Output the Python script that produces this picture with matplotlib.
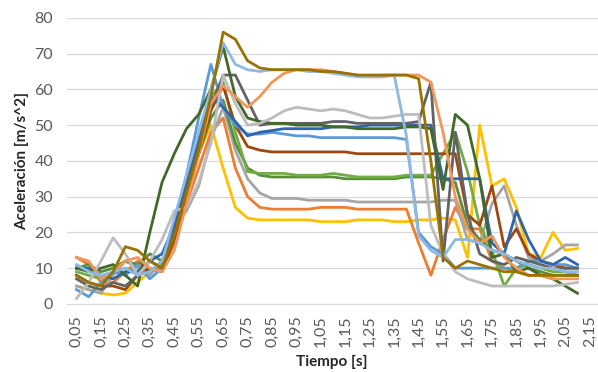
import matplotlib.pyplot as plt
import numpy as np

plt.rcParams['font.family'] = ['Lato', 'DejaVu Sans']

# tiempo [s], muestras cada 0,05 s
tiempo = np.round(np.arange(0.05, 2.101, 0.05), 2)
etiquetas_x = np.round(np.arange(0.05, 2.151, 0.10), 2)

# aceleraciones [m/s^2]
olivo = [8, 6, 5, 9, 16, 15, 12, 10, 19, 31, 43, 58, 76, 74, 68, 66, 65.5, 65.5, 65.5,
         65.5, 65, 65, 64.5, 64, 64, 64, 64, 64, 63, 40, 13, 10, 12, 11, 10, 9, 9, 8, 8, 8, 8, 8]
celeste = [11, 9, 8, 9, 10, 8, 9, 12, 24, 36, 48, 60, 73, 67, 65.5, 65, 65.5, 65.5, 65.5,
           65, 65, 64.5, 64, 63.5, 63.5, 64, 64, 47, 19, 15, 13, 18, 18, 17, 15, 14, 12, 11, 10, 10, 9, 9]
salmon = [13, 12, 7, 9, 12, 13, 10, 9, 15, 28, 42, 56, 61, 58, 55, 58, 62, 64.5, 65.5,
          65.5, 65.5, 65, 64.5, 64, 63.5, 63.5, 64, 64, 64, 62, 48, 30, 21, 17, 19, 13, 10, 8, 8, 7, 7, 7]
gris_claro = [1.5, 6, 12, 18.5, 14, 8, 12, 18, 26, 27, 34, 45, 64, 56, 50, 50.5, 52, 54, 55,
              54.5, 54, 54.5, 54, 53, 52, 52, 52.5, 53, 53, 22, 14, 9, 7, 6, 5, 5, 5, 5, 5, 5, 5.5, 6]
verde_osc = [10, 9, 10, 11, 8, 5, 20, 34, 42, 49, 53, 60, 72, 58, 52, 51, 50.5, 50.5, 50,
             50, 50, 49.5, 49.5, 49, 49, 49, 49, 49.5, 49.5, 49, 32, 53, 50, 35, 13, 14, 9, 10, 8, 7, 5, 3]
carbon = [7, 5, 4, 6, 5, 8, 12, 10, 20, 32, 44, 55, 64, 64, 57, 50, 50.5, 50.5, 50.5,
          50.5, 50.5, 51, 51, 50.5, 50.5, 50.5, 50.5, 50.5, 51, 62, 12, 48, 25, 14, 12, 11, 13, 12, 11, 10, 10, 10]
azul = [10, 10, 8, 7, 9, 9, 12, 14, 22, 34, 46, 58, 55, 51, 47, 48, 48.5, 49, 49,
        49, 49, 49.5, 49.5, 49.5, 50, 50, 50, 50, 50, 50, 35, 35, 35, 35, 17, 14, 26, 18, 12, 11, 13, 11]
azul_claro = [4, 2, 6, 9, 8, 11, 7, 10, 22, 36, 52, 67, 55, 50, 47.5, 47.5, 48, 47.5, 47,
              47, 46.5, 46.5, 46.5, 46.5, 46.5, 46.5, 46.5, 46, 20, 16, 14, 10, 10, 10, 10, 10, 10, 12, 12, 11, 11, 10]
marron = [8, 6, 5, 5, 4, 8, 10, 9, 18, 30, 42, 54, 61, 50, 44, 43, 42.5, 42.5, 42.5,
          42.5, 42.5, 42.5, 42.5, 42, 42, 42, 42, 42, 42, 42, 42, 42, 25, 22, 33, 16, 21, 14, 12, 11, 10, 10]
verde = [9, 8, 7, 9, 10, 9, 9, 11, 18, 30, 44, 58, 62, 48, 37, 36.5, 36.5, 36.5, 36,
         36, 36, 36.5, 36, 35.5, 35.5, 35.5, 35.5, 36, 36, 36, 42, 48, 37, 22, 15, 5, 10, 11, 10, 9, 9, 8]
verde_medio = [10, 11, 9, 10, 12, 11, 14, 12, 20, 30, 42, 52, 57, 45, 38, 36, 35.5, 35.5, 35.5,
               35.5, 35.5, 35.5, 35, 35, 35, 35, 35, 35.5, 35.5, 35.5, 35, 34, 22, 18, 15, 14, 12, 10, 9, 8, 8, 8]
gris = [5, 4, 3, 8, 12, 10, 8, 12, 22, 26, 33, 46, 55, 43, 35, 31, 29.5, 29.5, 29.5,
        29, 29, 29, 29, 28.5, 28.5, 28.5, 28.5, 28.5, 28.5, 28.5, 29, 29, 18, 17, 28, 33, 22, 13, 12, 14, 16.5, 16.5]
naranja = [13, 11, 6, 6, 9, 12, 9, 10, 17, 28, 38, 48, 52, 38, 30, 27, 26.5, 26.5, 26.5,
           26.5, 27, 27, 27, 26.5, 26.5, 26.5, 26.5, 26.5, 17, 8, 18, 27, 21, 21, 12, 10, 9, 8, 8, 8, 8, 8]
amarillo = [5, 4, 3, 2.5, 3, 6, 9, 12, 20, 30, 42, 50, 38, 27, 24, 23.5, 23.5, 23.5, 23.5,
            23.5, 23, 23, 23, 23.5, 23.5, 23.5, 23, 23, 23.5, 23.5, 24, 23.5, 13, 50, 33, 35, 27, 14, 13, 20, 15, 15.5]

series = [
    (amarillo, '#FFC000'),
    (naranja, '#ED7D31'),
    (gris, '#A5A5A5'),
    (verde_medio, '#5A8F3A'),
    (verde, '#70AD47'),
    (marron, '#9E480E'),
    (azul_claro, '#5B9BD5'),
    (azul, '#2F64AE'),
    (carbon, '#636363'),
    (verde_osc, '#43682B'),
    (gris_claro, '#BDBDBD'),
    (salmon, '#F1975A'),
    (celeste, '#8DB9E3'),
    (olivo, '#997300'),
]

fig = plt.figure(figsize=(5.98, 3.72), dpi=100)
ax = fig.add_axes([0.112, 0.183, 0.888, 0.769])

for datos, color in series:
    ax.plot(tiempo, datos, color=color, linewidth=2.0, solid_joinstyle='round')

ax.set_xlim(0.011, 2.184)
ax.set_ylim(0, 80)
ax.set_yticks(range(0, 81, 10))
ax.set_xticks(etiquetas_x)
ax.set_xticklabels([f'{v:.2f}'.replace('.', ',') for v in etiquetas_x], rotation=90)
ax.grid(axis='y', color='#D9D9D9', linewidth=0.9)
ax.set_axisbelow(True)
for s in ['top', 'right', 'left']:
    ax.spines[s].set_visible(False)
ax.spines['bottom'].set_color('#D9D9D9')
ax.tick_params(axis='both', length=0, labelsize=11.5, colors='#595959')
ax.tick_params(axis='x', pad=8)
ax.tick_params(axis='y', pad=10)

fig.text(332 / 598, 1 - 362 / 372, 'Tiempo [s]', fontsize=11, fontweight='bold',
         color='#262626', ha='center', va='center')
fig.text(22 / 598, 1 - 161 / 372, 'Aceleración [m/s^2]', fontsize=11, fontweight='bold',
         color='#262626', ha='center', va='center', rotation=90)

fig.savefig('out.png', dpi=100)
